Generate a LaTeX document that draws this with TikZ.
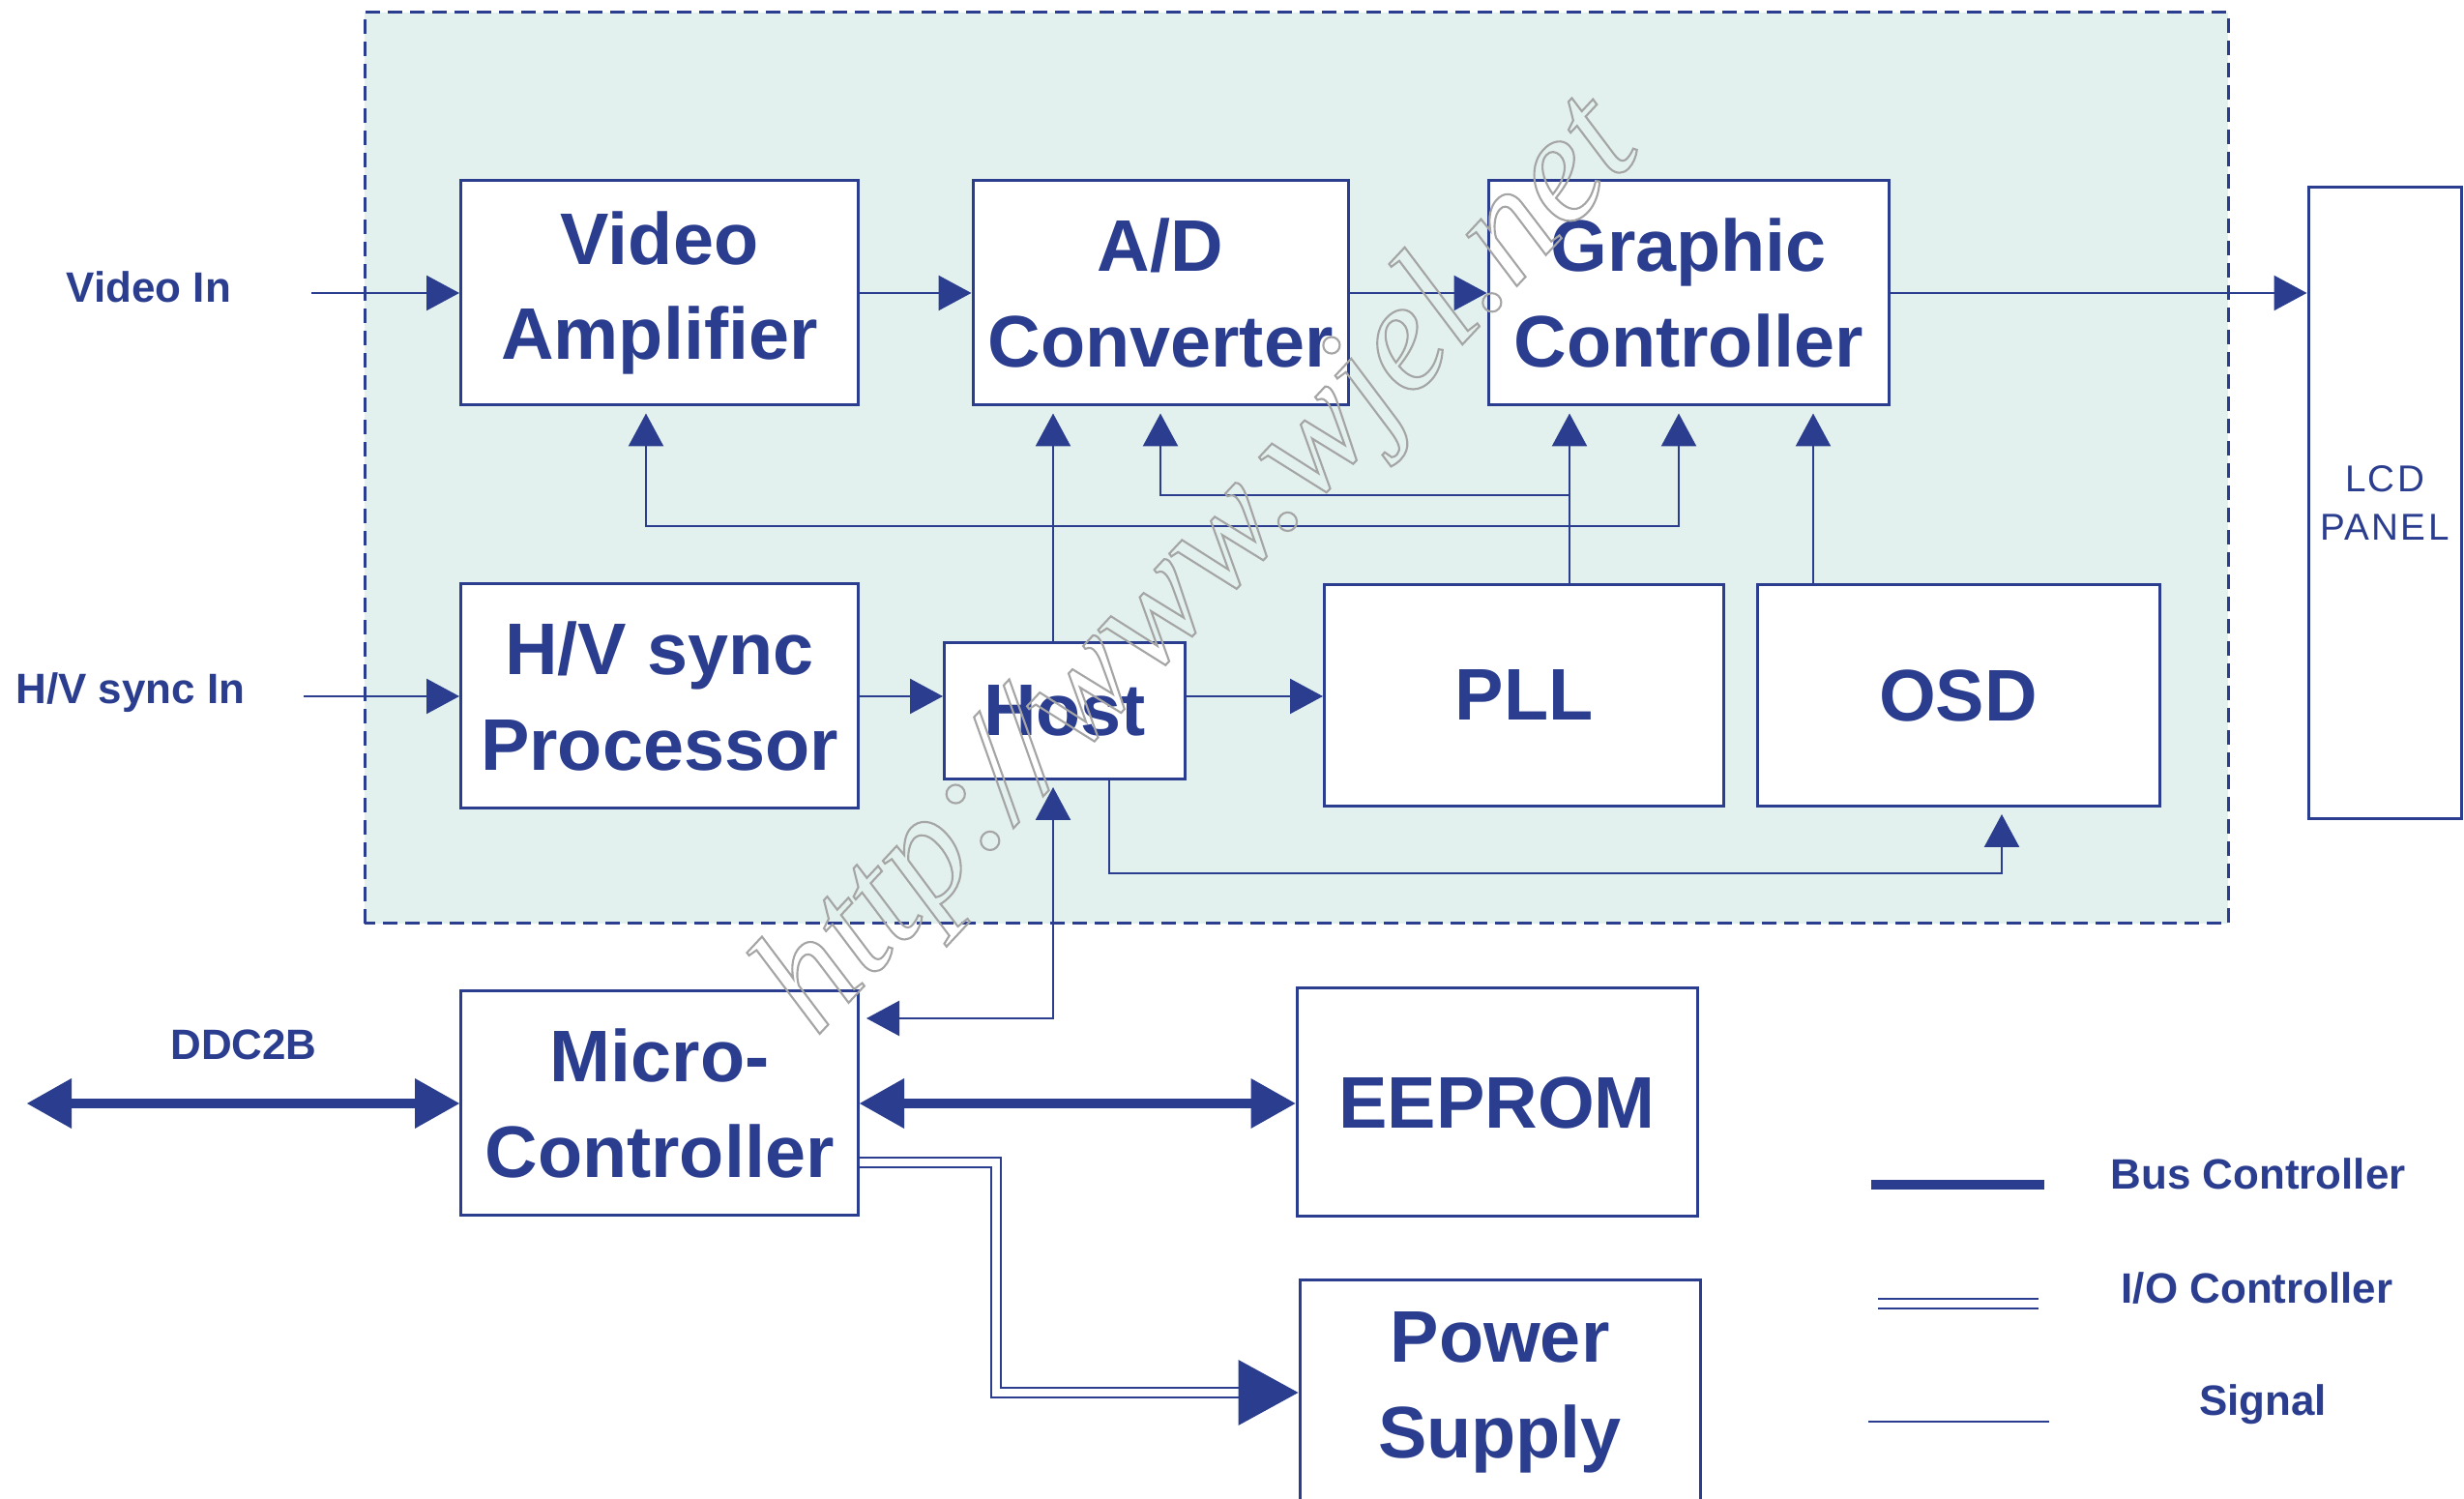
\documentclass[tikz,border=0pt]{standalone}
\usepackage{fontspec}
\setmainfont{Liberation Sans}
\setsansfont{Liberation Sans}
\newfontfamily\wmfont{Liberation Serif}
\usetikzlibrary{arrows.meta}

\begin{document}
\begin{tikzpicture}
  \definecolor{dblue}{RGB}{42,61,142}
  \definecolor{mintbg}{RGB}{226,241,237}
  \definecolor{wmgray}{RGB}{165,165,165}

  \tikzset{
    blockbox/.style={draw=dblue,fill=white,line width=0.03cm,text=dblue,align=center,inner sep=0pt,font=\fontsize{21.5}{28}\selectfont\bfseries},
    sidelabel/.style={text=dblue,inner sep=1pt,font=\fontsize{12.5}{15}\selectfont\bfseries},
    sigline/.style={draw=dblue,line width=0.025cm},
    sigarrow/.style={sigline,-{Triangle[length=0.34cm,width=0.36cm]}},
    sigboth/.style={sigline,{Triangle[length=0.34cm,width=0.36cm]}-{Triangle[length=0.34cm,width=0.36cm]},shorten <=0.07cm,shorten >=0.07cm},
    tipgap/.style={shorten >=0.07cm},
    busline/.style={draw=dblue,line width=0.1cm},
    busarrow/.style={busline,{Triangle[length=0.46cm,width=0.52cm,line width=0pt]}-{Triangle[length=0.46cm,width=0.52cm,line width=0pt]}},
    ioline/.style={draw=dblue,line width=0.022cm,double=white,double distance=0.08cm},
    ioarrow/.style={draw=dblue,line width=0.022cm,-{Triangle[length=0.62cm,width=0.68cm,line width=0pt]}},
    regionframe/.style={draw=dblue,fill=mintbg,line width=0.03cm,dash pattern=on 0.15cm off 0.08cm}
  }

  \useasboundingbox (0,0) rectangle (25.48,15.50);
  \clip (0,0) rectangle (25.48,15.50);

  % ---------------- shaded region ----------------
  \draw[regionframe] (3.77,5.95) rectangle (23.04,15.37);

  % ---------------- blocks ----------------
  \node[blockbox,minimum width=4.11cm,minimum height=2.32cm] (vamp) at (6.82,12.47) {Video\\Amplifier};
  \node[blockbox,minimum width=3.88cm,minimum height=2.32cm] (adc) at (12.00,12.47) {A/D\\Converter};
  \node[blockbox,minimum width=4.14cm,minimum height=2.32cm] (graphic) at (17.46,12.47) {Graphic\\Controller};
  \node[blockbox,minimum width=4.11cm,minimum height=2.32cm] (hvsync) at (6.82,8.30) {H/V sync\\Processor};
  \node[blockbox,minimum width=2.49cm,minimum height=1.41cm] (host) at (11.01,8.15) {Host};
  \node[blockbox,minimum width=4.13cm,minimum height=2.29cm] (pll) at (15.76,8.31) {PLL};
  \node[blockbox,minimum width=4.16cm,minimum height=2.29cm] (osd) at (20.25,8.31) {OSD};
  \node[blockbox,minimum width=4.11cm,minimum height=2.32cm] (micro) at (6.82,4.09) {Micro-\\Controller};
  \node[blockbox,minimum width=4.14cm,minimum height=2.36cm] (eeprom) at (15.48,4.10) {EEPROM};
  \node[blockbox,minimum width=4.14cm,minimum height=2.32cm] (power) at (15.51,1.10) {Power\\Supply};
  \node[blockbox,minimum width=1.58cm,minimum height=6.53cm,font=\fontsize{11}{14.2}\selectfont\addfontfeature{LetterSpace=6}] (lcd) at (24.66,10.30) {LCD\\PANEL};

  % ---------------- outside labels ----------------
  \node[sidelabel] (vinlbl) at (1.54,12.53) {Video In};
  \node[sidelabel] (hvinlbl) at (1.35,8.34) {H/V sync In};
  \node[sidelabel] (ddclbl) at (2.52,4.70) {DDC2B};

  % ---------------- signal paths ----------------
  \coordinate (vin) at (3.22,12.47);
  \coordinate (hvin) at (3.14,8.30);
  \coordinate (pllrow) at (16.23,10.38);
  \draw[sigarrow] (vin) -- (vamp.west);
  \draw[sigarrow] (hvin) -- (hvsync.west);
  \draw[sigarrow] (vamp.east) -- (adc.west);
  \draw[sigarrow] (adc.east) -- (graphic.west);
  \draw[sigarrow] (graphic.east) -- (graphic.east -| lcd.west);
  \draw[sigarrow] (hvsync.east) -- (hvsync.east -| host.west);
  \draw[sigarrow] (hvsync.east -| host.east) -- (hvsync.east -| pll.west);

  % Host, PLL and OSD up to the top row
  \draw[sigarrow,tipgap] (host.north -| 10.89,0) -- (adc.south -| 10.89,0);
  \draw[sigarrow,tipgap] (pll.north -| pllrow) -- (graphic.south -| pllrow);
  \draw[sigarrow,tipgap] (pllrow) -| (adc.south);
  \draw[sigboth] (vamp.south -| 6.68,0) |- (17.36,10.06) -- (graphic.south -| 17.36,0);
  \draw[sigarrow,tipgap] (osd.north -| 18.75,0) -- (graphic.south -| 18.75,0);
  \draw[sigarrow,tipgap] (host.south -| 11.47,0) |- (20.70,6.47) -- (osd.south -| 20.70,0);
  \draw[sigboth] (host.south -| 10.89,0) |- (micro.east |- 0,4.97);

  % ---------------- bus and I/O ----------------
  \coordinate (ddc) at (0.28,0);
  \draw[busarrow] (micro.west -| ddc) -- (micro.west);
  \draw[busarrow] (micro.east) -- (micro.east -| eeprom.west);
  \coordinate (iobend) at (10.30,3.48);
  \draw[ioline] (micro.east |- iobend) -- (iobend) |- ([xshift=-0.62cm]power.west);
  \draw[ioarrow] ([xshift=-0.62cm]power.west) -- (power.west);

  % ---------------- legend ----------------
  \draw[busline] (19.35,3.25) -- (21.14,3.25);
  \draw[ioline] (19.42,2.02) -- (21.08,2.02);
  \draw[sigline] (19.32,0.80) -- (21.19,0.80);
  \node[sidelabel] (lgbus) at (23.35,3.36) {Bus Controller};
  \node[sidelabel] (lgio) at (23.34,2.18) {I/O Controller};
  \node[sidelabel] (lgsig) at (23.40,0.98) {Signal};

  % watermark
  \node[text=wmgray,rotate=47,inner sep=0pt,font=\wmfont\itshape\fontsize{46}{46}\selectfont] (wm) at (12.43,9.62)
    {\special{pdf:literal direct 1 Tr 0.6 w}http://www.wjel.net\special{pdf:literal direct 0 Tr}};
\end{tikzpicture}
\end{document}
